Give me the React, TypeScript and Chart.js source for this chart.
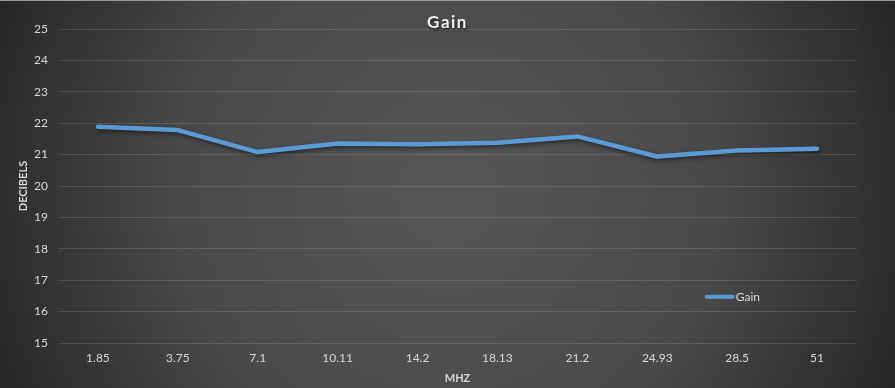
import React, { useEffect, useRef } from "react";
import { Chart, registerables } from "chart.js";

Chart.register(...registerables);

const categories = ["1.85", "3.75", "7.1", "10.11", "14.2", "18.13", "21.2", "24.93", "28.5", "51"];
const gainValues = [21.89, 21.78, 21.08, 21.35, 21.33, 21.38, 21.58, 20.94, 21.13, 21.19];
const seriesName = "Gain";
const chartTitle = "Gain";
const yTitle = "DECIBELS";
const xTitle = "MHZ";
const yMin = 15;
const yMax = 25;

const FONT = "Lato, 'Open Sans', sans-serif";
const LINE_COLOR = "#5B9BD5";
const TEXT_COLOR = "#d9d9d9";

const decorPlugin = {
  id: "decor",
  beforeDraw(chart: any) {
    const { ctx, width, height } = chart;
    ctx.save();
    const g = ctx.createRadialGradient(width / 2, height / 2, 0, width / 2, height / 2, width * 0.55);
    g.addColorStop(0, "#575757");
    g.addColorStop(0.55, "#494949");
    g.addColorStop(1, "#262626");
    ctx.fillStyle = g;
    ctx.fillRect(0, 0, width, height);
    ctx.fillStyle = "#9a9a9a";
    ctx.fillRect(0, 0, width, 1);
    ctx.restore();
  },
  beforeDatasetsDraw(chart: any) {
    const { ctx } = chart;
    ctx.save();
    ctx.shadowColor = "rgba(0,0,0,0.55)";
    ctx.shadowBlur = 4;
    ctx.shadowOffsetX = 1;
    ctx.shadowOffsetY = 2;
  },
  afterDatasetsDraw(chart: any) {
    chart.ctx.restore();
  },
  afterDraw(chart: any) {
    const { ctx, width, chartArea } = chart;
    ctx.save();
    ctx.font = `bold 17px ${FONT}`;
    (ctx as any).letterSpacing = "1.5px";
    ctx.fillStyle = "#f2f2f2";
    ctx.textAlign = "center";
    ctx.textBaseline = "middle";
    ctx.shadowColor = "rgba(0,0,0,0.7)";
    ctx.shadowBlur = 3;
    ctx.shadowOffsetX = 1;
    ctx.shadowOffsetY = 2;
    ctx.fillText(chartTitle, width / 2, 23);
    ctx.restore();

    ctx.save();
    const ds = chart.data.datasets[0];
    const ly = chartArea.top + (chartArea.bottom - chartArea.top) * 0.853;
    const lx = chartArea.left + (chartArea.right - chartArea.left) * 0.812;
    ctx.strokeStyle = LINE_COLOR;
    ctx.lineWidth = 4;
    ctx.lineCap = "round";
    ctx.beginPath();
    ctx.moveTo(lx, ly);
    ctx.lineTo(lx + 26, ly);
    ctx.stroke();
    ctx.font = `12px ${FONT}`;
    ctx.fillStyle = TEXT_COLOR;
    ctx.textAlign = "left";
    ctx.textBaseline = "middle";
    ctx.fillText(ds.label, lx + 29, ly);
    ctx.restore();
  },
};

export default function App() {
  const ref = useRef<HTMLCanvasElement | null>(null);
  useEffect(() => {
    document.body.style.margin = "0";
    const canvas = ref.current!;
    const chart = new Chart(canvas, {
      type: "line",
      data: {
        labels: categories,
        datasets: [
          {
            label: seriesName,
            data: gainValues,
            borderColor: LINE_COLOR,
            backgroundColor: LINE_COLOR,
            borderWidth: 4.5,
            pointRadius: 0,
            pointHoverRadius: 0,
            tension: 0,
            borderCapStyle: "round",
            borderJoinStyle: "round",
            fill: false,
          },
        ],
      },
      options: {
        animation: false,
        responsive: false,
        maintainAspectRatio: false,
        layout: { padding: { top: 29, right: 38, left: 0, bottom: 0 } },
        plugins: {
          legend: { display: false },
          title: { display: false },
          tooltip: { enabled: false },
        },
        scales: {
          x: {
            offset: true,
            grid: { display: false, drawTicks: false },
            border: { display: false },
            ticks: { color: TEXT_COLOR, font: { family: FONT, size: 12 }, padding: 8, maxRotation: 0 },
            title: {
              display: true,
              text: xTitle,
              color: TEXT_COLOR,
              font: { family: FONT, size: 11, weight: "bold" },
              padding: { top: 6, bottom: 3 },
            },
            afterFit(scale: any) {
              scale.height = 45;
            },
          },
          y: {
            min: yMin,
            max: yMax,
            ticks: { stepSize: 1, color: TEXT_COLOR, font: { family: FONT, size: 12 }, padding: 10 },
            grid: { color: "rgba(255,255,255,0.13)", lineWidth: 1, drawTicks: false },
            border: { display: false },
            title: {
              display: true,
              text: yTitle,
              color: TEXT_COLOR,
              font: { family: FONT, size: 11, weight: "bold" },
              padding: { top: 17, bottom: 0 },
            },
            afterFit(scale: any) {
              scale.width = 58;
            },
          },
        },
      },
      plugins: [decorPlugin],
    });
    return () => chart.destroy();
  }, []);
  return (
    <div style={{ width: 895, height: 388 }}>
      <canvas ref={ref} width={895} height={388} style={{ display: "block" }} />
    </div>
  );
}
